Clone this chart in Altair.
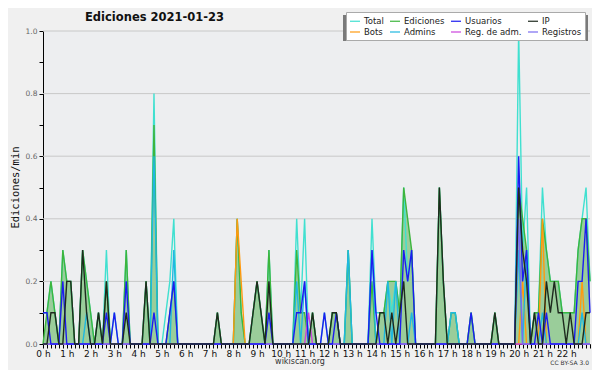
import altair as alt
import pandas as pd

# time axis: minutes since 00:00, one sample every 10 minutes (00:00 .. 23:00)
minutes = list(range(0, 1381, 10))
hour_labels = [f"{h} h" for h in range(23)]

total = [
    .1, .1, .2, .1, 0, .3,
    .2, .2, 0, 0, .3, .2,
    .1, 0, .1, 0, .3, 0,
    .1, 0, 0, .3, 0, 0,
    0, 0, .2, 0, .8, 0,
    0, .1, .2, .4, 0, 0,
    0, 0, 0, 0, 0, 0,
    0, 0, .1, 0, 0, 0,
    0, .4, .1, 0, 0, .1,
    .2, .1, 0, .3, 0, 0,
    0, 0, 0, 0, .4, .1,
    .4, 0, .1, 0, 0, .1,
    0, .1, .1, 0, 0, .3,
    0, 0, 0, 0, 0, .4,
    .1, .1, .1, .2, .1, .2,
    .1, .5, .2, .3, 0, 0,
    0, 0, 0, 0, .5, .2,
    0, .1, .1, 0, 0, 0,
    .1, 0, 0, 0, 0, 0,
    .1, 0, 0, 0, 0, 0,
    1.0, .3, .5, 0, .1, .1,
    .5, .3, .2, .2, .2, .1,
    .1, .1, .1, .3, .4, .5,
    .2]

ediciones = [
    0, .1, .2, .1, 0, .3,
    .2, .2, 0, 0, .3, .2,
    .1, 0, .1, 0, .2, 0,
    0, 0, 0, .3, 0, 0,
    0, 0, .2, 0, .7, 0,
    0, 0, .1, .2, 0, 0,
    0, 0, 0, 0, 0, 0,
    0, 0, .1, 0, 0, 0,
    0, .4, .1, 0, 0, .1,
    .2, .1, 0, .3, 0, 0,
    0, 0, 0, 0, .3, .1,
    .1, 0, .1, 0, 0, 0,
    0, .1, .1, 0, 0, .3,
    0, 0, 0, 0, 0, .2,
    0, .1, .1, .2, .2, .2,
    .1, .5, .4, .3, 0, 0,
    0, 0, 0, 0, .5, .2,
    0, .1, .1, 0, 0, 0,
    .1, 0, 0, 0, 0, 0,
    .1, 0, 0, 0, 0, 0,
    .5, .4, .3, 0, .1, .1,
    .4, .3, .2, .2, .2, .1,
    .1, .1, .1, .3, .4, .4,
    .2]

usuarios = [
    .1, .1, 0, 0, 0, .2,
    0, 0, 0, 0, 0, 0,
    0, 0, 0, 0, .1, 0,
    .1, 0, 0, .2, 0, 0,
    0, 0, 0, 0, .1, 0,
    0, 0, .1, .2, 0, 0,
    0, 0, 0, 0, 0, 0,
    0, 0, 0, 0, 0, 0,
    0, 0, 0, 0, 0, 0,
    0, 0, 0, .1, 0, 0,
    0, 0, 0, 0, .1, .1,
    .2, 0, 0, 0, 0, .1,
    0, 0, .1, 0, 0, 0,
    0, 0, 0, 0, 0, .3,
    .1, 0, 0, 0, 0, 0,
    0, .3, .2, .3, 0, 0,
    0, 0, 0, 0, 0, 0,
    0, 0, 0, 0, 0, 0,
    .1, 0, 0, 0, 0, 0,
    0, 0, 0, 0, 0, 0,
    .6, .2, .3, 0, 0, .1,
    0, .1, 0, 0, 0, 0,
    0, 0, 0, .2, .2, .4,
    .1]

ip = [
    0, 0, .1, .1, 0, 0,
    .2, .2, 0, 0, .3, .1,
    0, 0, .1, 0, .2, 0,
    0, 0, 0, .1, 0, 0,
    0, 0, .2, 0, 0, 0,
    0, 0, 0, 0, 0, 0,
    0, 0, 0, 0, 0, 0,
    0, 0, .1, 0, 0, 0,
    0, 0, 0, 0, 0, .1,
    .2, .1, 0, .2, 0, 0,
    0, 0, 0, 0, 0, 0,
    0, 0, .1, 0, 0, 0,
    0, .1, .1, 0, 0, 0,
    0, 0, 0, 0, 0, 0,
    0, .1, .1, 0, .1, 0,
    .1, .2, 0, 0, 0, 0,
    0, 0, 0, 0, .5, .2,
    0, 0, 0, 0, 0, 0,
    0, 0, 0, 0, 0, 0,
    .1, 0, 0, 0, 0, 0,
    .5, .3, .2, 0, .1, 0,
    0, .2, .1, .2, .1, .1,
    0, .1, 0, 0, 0, .1,
    .1]

bots = [0] * 49 + [.4, .2] + [0] * 70 + [.2] + [0] * 4 + [.4] + [0] * 9 + [.2] + [0, 0]

admins = [
    0, 0, 0, 0, 0, 0,
    0, 0, 0, 0, 0, .1,
    0, 0, 0, 0, 0, 0,
    0, 0, 0, 0, 0, 0,
    0, 0, 0, 0, .6, 0,
    0, 0, 0, .3, 0, 0,
    0, 0, 0, 0, 0, 0,
    0, 0, 0, 0, 0, 0,
    0, 0, 0, 0, 0, 0,
    0, 0, 0, 0, 0, 0,
    0, 0, 0, 0, .2, 0,
    .2, 0, 0, 0, 0, 0,
    0, 0, 0, 0, 0, .3,
    0, 0, 0, 0, 0, .3,
    0, 0, 0, .2, 0, .2,
    0, 0, 0, .1, 0, 0,
    0, 0, 0, 0, 0, 0,
    0, .1, .1, 0, 0, 0,
    0, 0, 0, 0, 0, 0,
    0, 0, 0, 0, 0, 0,
    .3, 0, .3, 0, 0, 0,
    .1, 0, 0, 0, 0, 0,
    0, 0, 0, 0, .1, 0,
    0]

reg_adm = [0] * 67 + [.1] + [0] * 71
registros = [0] * 120 + [.4] + [0] * 18

series_names = ["Total", "Ediciones", "Usuarios", "IP",
                "Bots", "Admins", "Reg. de adm.", "Registros"]
series_colors = ["#40e0d0", "#3db53d", "#1c1cf0", "#1e2a1e",
                 "#ff9a10", "#1fb8e0", "#cc44dd", "#7a6cf0"]
draw_order = ["Total", "Ediciones", "Bots", "Admins", "Reg. de adm.",
              "Registros", "Usuarios", "IP"]
values = {"Total": total, "Ediciones": ediciones, "Usuarios": usuarios,
          "IP": ip, "Bots": bots, "Admins": admins,
          "Reg. de adm.": reg_adm, "Registros": registros}

rows = []
for name in draw_order:
    for m, v in zip(minutes, values[name]):
        rows.append({"min": m, "v": v, "s": name})
df = pd.DataFrame(rows)
df_area = pd.DataFrame({"min": minutes, "v": ediciones})
grid_vals = pd.DataFrame({"g": [0.2, 0.4, 0.6, 0.8, 1.0]})

W, H = 547, 313
xscale = alt.Scale(domain=[0, 1380], nice=False, zero=False)
yscale = alt.Scale(domain=[0, 1], nice=False)

x_axis = alt.Axis(
    values=list(range(0, 1381, 10)),
    labelExpr="(datum.value % 60 == 0 && datum.value < 1380) ? (datum.value / 60) + ' h' : ''",
    labelOverlap=False, labelFlush=False, labelBound=False, grid=False, title=None,
    ticks=True, domainColor="black", tickColor="black", tickSize=4, tickWidth=1,
    labelFont="DejaVu Sans", labelFontSize=9, labelColor="#111",
    labelPadding=1,
)
y_axis = alt.Axis(
    values=[i / 10 for i in range(11)],
    labelExpr="round(datum.value * 10) % 2 == 0 ? format(datum.value, '.1f') : ''",
    labelOverlap=False, grid=False, title="Ediciones/min",
    ticks=True, domainColor="black", tickColor="black", tickSize=4, tickWidth=1,
    labelFont="DejaVu Sans", labelFontSize=7.5, labelColor="#666",
    labelPadding=2,
    titleFont="DejaVu Sans Mono", titleFontSize=10.5, titleFontWeight="normal",
    titleColor="#111", titleX=-28, titleY=156, titleAngle=-90,
    titleAlign="center", titleBaseline="middle",
)

X = alt.X("min:Q", scale=xscale, axis=x_axis)
Y = alt.Y("v:Q", scale=yscale, axis=y_axis)

grid = alt.Chart(grid_vals).mark_rule(color="#c8c8c8", strokeWidth=1).encode(
    y=alt.Y("g:Q", scale=yscale, axis=y_axis)
)

area = alt.Chart(df_area).mark_area(color="#9acd9a", opacity=1, interpolate="linear").encode(
    x=X, y=Y,
)

lines = alt.Chart(df).mark_line(strokeWidth=1.4, interpolate="linear").encode(
    x=X, y=Y,
    color=alt.Color(
        "s:N",
        scale=alt.Scale(domain=series_names, range=series_colors),
        legend=alt.Legend(
            title=None, orient="none", legendX=303, legendY=-19, columns=4,
            direction="horizontal",
            symbolType="stroke", symbolSize=100, symbolStrokeWidth=1.2,
            labelFont="DejaVu Sans", labelFontSize=8.5, labelColor="#222",
            fillColor="white", strokeColor="#aaaaaa", padding=3,
            rowPadding=0, columnPadding=3, labelOffset=3, labelLimit=200,
        ),
    ),
    detail="s:N",
)

shadow = alt.Chart(pd.DataFrame({"a": [0]})).mark_rect(color="#7a7a7a").encode(
    x=alt.value(300), x2=alt.value(545), y=alt.value(-16), y2=alt.value(10)
)

title_df = pd.DataFrame({"t": ["Ediciones  2021-01-23"]})
title = alt.Chart(title_df).mark_text(
    font="DejaVu Sans", fontSize=11.5, fontWeight="bold", align="left",
    baseline="alphabetic", color="#111"
).encode(text="t:N", x=alt.value(42), y=alt.value(-10))

foot_df = pd.DataFrame({"t": ["wikiscan.org"]})
foot = alt.Chart(foot_df).mark_text(
    font="DejaVu Sans", fontSize=8, align="center", baseline="alphabetic", color="#333"
).encode(text="t:N", x=alt.value(257), y=alt.value(333))

cc_df = pd.DataFrame({"t": ["CC BY-SA 3.0"]})
cc = alt.Chart(cc_df).mark_text(
    font="DejaVu Sans", fontSize=6, align="right", baseline="alphabetic", color="#333"
).encode(text="t:N", x=alt.value(546), y=alt.value(334))

chart = alt.layer(grid, area, lines, shadow, title, foot, cc).properties(
    width=W, height=H,
    autosize=alt.AutoSizeParams(type="none"),
    padding={"left": 35, "top": 23, "right": 2, "bottom": 26},
    background="#f0f0f0",
).configure_view(fill="#edeef0", stroke=None, clip=False).configure_axis(
    ticks=True, tickSize=4, tickColor="black", domainColor="black"
)

chart.save("out.html", embed_options={"renderer": "svg", "actions": False})
